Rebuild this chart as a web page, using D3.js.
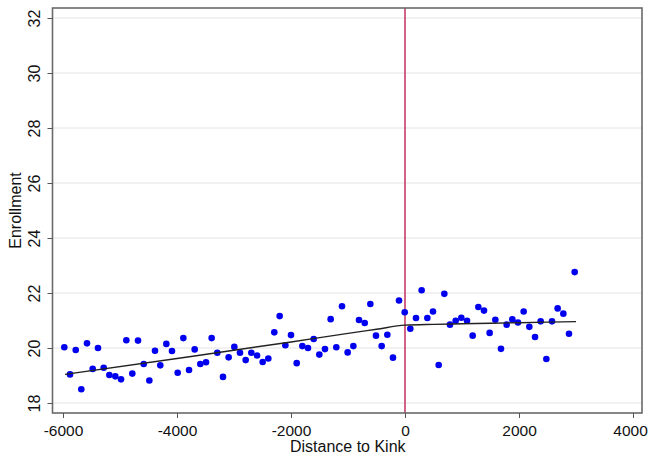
<!DOCTYPE html>
<html>
<head>
<meta charset="utf-8">
<script src="https://cdn.jsdelivr.net/npm/d3@7"></script>
<style>
  html, body { margin: 0; padding: 0; background: #fff; }
  svg { display: block; }
  text { font-family: "Liberation Sans", Arial, Helvetica, sans-serif; fill: #111; }
</style>
</head>
<body>
<svg id="chart" width="649" height="461"></svg>
<script>
// ---- data ----
const distance = [
  -5977, -5877, -5777, -5679, -5579, -5479, -5386, -5286, -5187, -5082,
  -4982, -4889, -4784, -4684, -4584, -4485, -4386, -4293, -4187, -4088,
  -3988, -3889, -3789, -3690, -3591, -3491, -3392, -3293, -3193, -3094,
  -2994, -2895, -2795, -2696, -2596, -2497, -2398, -2293, -2199, -2099,
  -2000, -1900, -1801, -1702, -1602, -1503, -1404, -1304, -1205, -1105,
  -1006, -906, -807, -707, -608, -509, -409, -310, -211, -105,
  -5, 93, 193, 292, 392, 491, 591, 690, 789, 889,
  988, 1088, 1187, 1287, 1386, 1485, 1585, 1684, 1784, 1883,
  1982, 2082, 2181, 2281, 2380, 2480, 2579, 2678, 2778, 2877,
  2977
];
const enrollment = [
  20.03, 19.04, 19.93, 18.50, 20.17, 19.24, 20.00, 19.28, 19.02, 18.97,
  18.86, 20.28, 19.07, 20.27, 19.42, 18.82, 19.90, 19.37, 20.15, 19.89,
  19.10, 20.36, 19.20, 19.95, 19.42, 19.48, 20.36, 19.83, 18.95, 19.66,
  20.04, 19.83, 19.56, 19.83, 19.73, 19.49, 19.62, 20.57, 21.16, 20.10,
  20.47, 19.45, 20.07, 20.00, 20.33, 19.76, 19.96, 21.05, 20.03, 21.52,
  19.84, 20.07, 21.02, 20.91, 21.60, 20.45, 20.07, 20.48, 19.65, 21.73,
  21.30, 20.70, 21.09, 22.10, 21.09, 21.33, 19.38, 21.97, 20.85, 20.99,
  21.10, 20.99, 20.45, 21.49, 21.36, 20.55, 21.03, 19.97, 20.85, 21.04,
  20.93, 21.33, 20.77, 20.40, 20.97, 19.60, 20.97, 21.44, 21.25, 20.52,
  22.76
];
const fitX = [-5965, -4000, -2000, -1000, -500, 0, 500, 1000, 2000, 3000];
const fitY = [19.04, 19.62, 20.22, 20.53, 20.68, 20.83, 20.86, 20.88, 20.92, 20.96];
const xTicks = [-6000, -4000, -2000, 0, 2000, 4000];
const yTicks = [18, 20, 22, 24, 26, 28, 30, 32];
const kink = 0;

// ---- layout ----
const svg = d3.select("#chart");
const frame = { left: 52.5, right: 642, top: 8, bottom: 413 };
const x = d3.scaleLinear().domain([-6000, 4000]).range([63, 633]);
const y = d3.scaleLinear().domain([18, 32]).range([403, 18]);

// gridlines
svg.append("g").selectAll("line").data(yTicks).join("line")
  .attr("x1", frame.left).attr("x2", frame.right)
  .attr("y1", d => y(d)).attr("y2", d => y(d))
  .attr("stroke", "#e4e4e4").attr("stroke-width", 1);

// kink line
svg.append("line")
  .attr("x1", x(kink)).attr("x2", x(kink))
  .attr("y1", frame.top).attr("y2", frame.bottom)
  .attr("stroke", "#c2305e").attr("stroke-width", 1.5);

// points
const pts = distance.map((d, i) => [d, enrollment[i]]);
svg.append("g").selectAll("circle").data(pts).join("circle")
  .attr("cx", d => x(d[0])).attr("cy", d => y(d[1]))
  .attr("r", 3.3).attr("fill", "#0000ee");

// fitted line
const fit = fitX.map((d, i) => [d, fitY[i]]);
svg.append("path")
  .datum(fit)
  .attr("fill", "none")
  .attr("stroke", "#222")
  .attr("stroke-width", 1.4)
  .attr("d", d3.line().x(d => x(d[0])).y(d => y(d[1])).curve(d3.curveMonotoneX));

// frame
svg.append("rect")
  .attr("x", frame.left).attr("y", frame.top)
  .attr("width", frame.right - frame.left).attr("height", frame.bottom - frame.top)
  .attr("fill", "none").attr("stroke", "#6a6a6a").attr("stroke-width", 1.6);

// x axis
const xAxis = d3.axisBottom(x).tickValues(xTicks).tickSize(5).tickPadding(7).tickFormat(d3.format("d"));
const gx = svg.append("g").attr("transform", `translate(0,${frame.bottom})`).call(xAxis);
gx.select(".domain").remove();
gx.selectAll(".tick line").attr("stroke", "#555");
gx.selectAll(".tick text").attr("font-size", 15.5).attr("font-family", "Liberation Sans, Arial, sans-serif").attr("fill", "#111")
  .text(d => d < 0 ? "-" + Math.abs(d) : String(d))
  .attr("dx", d => d === xTicks[xTicks.length - 1] ? -3 : 0);

// y axis
const yAxis = d3.axisLeft(y).tickValues(yTicks).tickSize(5).tickPadding(3);
const gy = svg.append("g").attr("transform", `translate(${frame.left},0)`).call(yAxis);
gy.select(".domain").remove();
gy.selectAll(".tick line").attr("stroke", "#555");
gy.selectAll(".tick text")
  .attr("font-size", 16).attr("font-family", "Liberation Sans, Arial, sans-serif").attr("fill", "#111")
  .attr("x", null).attr("dy", null)
  .attr("text-anchor", "middle")
  .attr("transform", "translate(-13,0) rotate(-90)");

// axis titles
svg.append("text")
  .attr("x", (frame.left + frame.right) / 2 + 0.5).attr("y", 452)
  .attr("text-anchor", "middle").attr("font-size", 16)
  .text("Distance to Kink");
svg.append("text")
  .attr("transform", `translate(21,${(frame.top + frame.bottom) / 2}) rotate(-90)`)
  .attr("text-anchor", "middle").attr("font-size", 16)
  .text("Enrollment");
</script>
</body>
</html>
